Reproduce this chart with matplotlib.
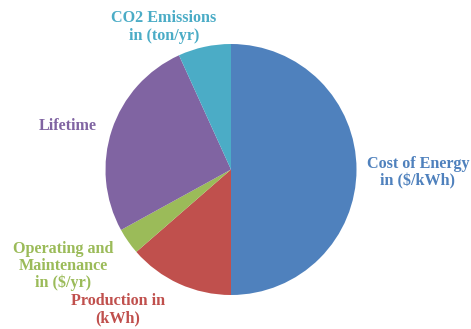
import matplotlib
matplotlib.use("Agg")
import matplotlib.pyplot as plt

# slices, clockwise from 12 o'clock
labels = ["Cost of Energy\nin ($/kWh)", "Production in\n(kWh)",
          "Operating and\nMaintenance\nin ($/yr)", "Lifetime",
          "CO2 Emissions\nin (ton/yr)"]
shares = [50.0, 13.6, 3.4, 26.2, 6.8]
colors = ["#4F81BD", "#C0504D", "#9BBB59", "#8064A2", "#4BACC6"]

# label centres in pixels (x, y from top)
label_pos = [(418, 173), (118, 310), (63, 266), (68, 126), (164, 27)]

W, H = 471, 329
fig = plt.figure(figsize=(W / 100, H / 100), dpi=100)
cx, cy, r = 231, 169.5, 125.5
ax = fig.add_axes([(cx - r) / W, (H - cy - r) / H, 2 * r / W, 2 * r / H])
ax.pie(shares, colors=colors, startangle=90, counterclock=False,
       radius=1, wedgeprops=dict(linewidth=0))
ax.set_xlim(-1, 1)
ax.set_ylim(-1, 1)
ax.set_aspect("auto")
ax.axis("off")

for lab, (x, y), c in zip(labels, label_pos, colors):
    fig.text(x / W, 1 - y / H, lab, color=c, ha="center", va="center",
             fontsize=11.6, fontweight="bold", family="Liberation Serif",
             linespacing=1.1)

fig.savefig("out.png", dpi=100)
